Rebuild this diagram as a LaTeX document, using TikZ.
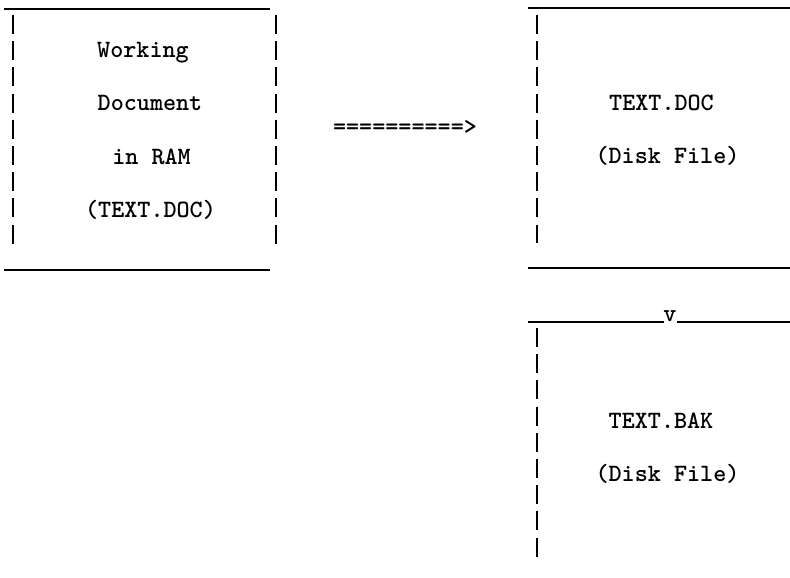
\documentclass[tikz,border=0pt]{standalone}
\begin{document}
\begin{tikzpicture}[x=1bp,y=-1bp,
  txt/.style={anchor=base,inner sep=0pt,font=\fontsize{25}{30}\selectfont\ttfamily\bfseries},
  hline/.style={line width=1.8bp},
  vbar/.style={line width=2bp,dash pattern=on 19bp off 7.2bp}]
\useasboundingbox[fill=white] (0,0) rectangle (790,578);
% left box
\draw[hline] (4,9) -- (270,9);
\draw[hline] (4,270) -- (270,270);
\draw[vbar] (12.5,15) -- (12.5,244);
\draw[vbar] (276,15) -- (276,244);
\node[txt] (working) at (143,58) {Working};
\node[txt] (document) at (150,111) {Document};
\node[txt] (inram) at (151.5,165) {in RAM};
\node[txt] (textdoc1) at (150.5,218) {(TEXT.DOC)};
% arrow
\node[txt] (arrow) at (405,135) {==========>};
% right box
\draw[hline] (528,8) -- (790,8);
\draw[hline] (528,268) -- (790,268);
\draw[vbar] (537,15) -- (537,243);
\node[txt] (textdoc2) at (661.5,111) {TEXT.DOC};
\node[txt] (disk1) at (667.5,164) {(Disk File)};
% lower box
\coordinate (vl) at (663.5,322);
\coordinate (vr) at (676.5,322);
\draw[hline] (528,322) -- (vl);
\draw[hline] (vr) -- (790,322);
\node[txt] (v) at (670,321) {v};
\draw[vbar] (537,328) -- (537,558);
\node[txt] (textbak) at (661,428) {TEXT.BAK};
\node[txt] (disk2) at (667.5,481) {(Disk File)};
\end{tikzpicture}
\end{document}
